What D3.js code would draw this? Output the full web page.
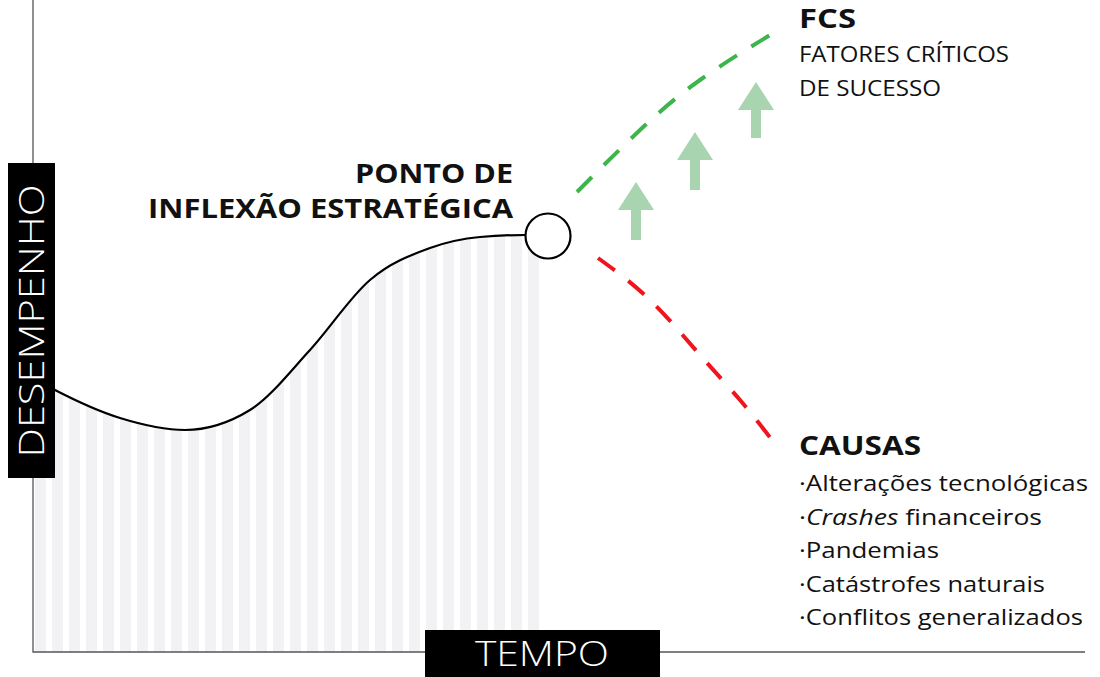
<!DOCTYPE html>
<html lang="pt">
<head>
<meta charset="UTF-8">
<script src="https://d3js.org/d3.v7.min.js"></script>
<style>
  body { margin: 0; background: #fff; font-family: "Open Sans", Lato, sans-serif; }
</style>
</head>
<body>
<svg width="1100" height="677"></svg>
<script>
// performance curve (time, performance) up to the inflection point
const curveT = [0, 22, 87, 152, 217, 277, 337, 397, 447, 492];
const curveP = [274, 262, 234, 222, 242, 302, 372, 404, 415, 417];
const inflection = [515, 416];
// scenarios after the inflection point
const upT = [544, 607, 667, 742];
const upP = [460, 522, 572, 620];
const downT = [565, 617, 667, 707, 739];
const downP = [394, 352, 297, 252, 212];
// arrows: time, base, tip
const arrowT = [603, 662, 723];
const arrowBase = [412, 462, 514];
const arrowTip = [470, 520, 570];
const causas = ["Alterações tecnológicas", "Crashes financeiros", "Pandemias", "Catástrofes naturais", "Conflitos generalizados"];
const causasLen = [289, 243, 140, 246, 284];

const svg = d3.select("svg");
const x = d3.scaleLinear().domain([0, 1052]).range([33, 1085]);
const y = d3.scaleLinear().domain([0, 652]).range([652, 0]);

const pts = curveT.map((t, i) => [t, curveP[i]]).concat([inflection]);
const line = d3.line().x(d => x(d[0])).y(d => y(d[1])).curve(d3.curveMonotoneX);
const area = d3.area().x(d => x(d[0])).y0(y(0)).y1(d => y(d[1])).curve(d3.curveMonotoneX);

// stripes under the curve
svg.append("clipPath").attr("id", "under").append("path").attr("d", area(pts.concat([[inflection[0] + 28, inflection[1]]])));
const stripeT = d3.range(2, 512, 17);
svg.append("g").attr("clip-path", "url(#under)")
  .selectAll("rect").data(stripeT).join("rect")
  .attr("x", d => x(d)).attr("width", 11)
  .attr("y", 0).attr("height", y(0))
  .attr("fill", "#f2f2f4");

// axes
svg.append("path").attr("d", `M${x(0)},0V${y(0)}H${x(1052)}`)
  .attr("fill", "none").attr("stroke", "#555").attr("stroke-width", 1.3);

svg.append("path").attr("d", line(pts)).attr("fill", "none").attr("stroke", "#000").attr("stroke-width", 2.2);

const dash = d3.line().x(d => x(d[0])).y(d => y(d[1])).curve(d3.curveNatural);
svg.append("path").attr("d", dash(upT.map((t, i) => [t, upP[i]])))
  .attr("fill", "none").attr("stroke", "#3db54a").attr("stroke-width", 4).attr("stroke-dasharray", "21,17");
svg.append("path").attr("d", dash(downT.map((t, i) => [t, downP[i]])))
  .attr("fill", "none").attr("stroke", "#f0141e").attr("stroke-width", 4).attr("stroke-dasharray", "21,17");

svg.append("circle").attr("cx", x(inflection[0])).attr("cy", y(inflection[1])).attr("r", 22.5)
  .attr("fill", "#fff").attr("stroke", "#000").attr("stroke-width", 2.2);

// arrows
arrowT.forEach((t, i) => {
  const cx = x(t), yb = y(arrowBase[i]), yt = y(arrowTip[i]), hh = 28;
  svg.append("path")
    .attr("d", `M${cx},${yt}L${cx + 18},${yt + hh}H${cx + 5}V${yb}H${cx - 5}V${yt + hh}H${cx - 18}Z`)
    .attr("fill", "#a9d4b0");
});

// labels
const t = (s, px, py, len, o = {}) => svg.append("text").attr("x", px).attr("y", py)
  .attr("font-size", o.size || 21).attr("font-weight", o.w || 400)
  .attr("text-anchor", o.anchor || "start").attr("fill", o.fill || "#111")
  .attr("textLength", len).attr("lengthAdjust", "spacingAndGlyphs").text(s);

t("PONTO DE", 513, 183, 158, {size: 27, w: 700, anchor: "end"});
t("INFLEXÃO ESTRATÉGICA", 513, 218, 365, {size: 27, w: 700, anchor: "end"});
t("FCS", 799, 28, 57, {size: 27, w: 700});
t("FATORES CRÍTICOS", 799, 62, 210);
t("DE SUCESSO", 799, 96, 142);
t("CAUSAS", 799, 455, 122, {size: 27, w: 700});
causas.forEach((c, i) => {
  const el = svg.append("text").attr("x", 799).attr("y", 491 + i * 33.6).attr("font-size", 21).attr("fill", "#111")
    .attr("textLength", causasLen[i]).attr("lengthAdjust", "spacingAndGlyphs");
  el.append("tspan").text("·");
  if (c.startsWith("Crashes")) {
    el.append("tspan").attr("font-style", "italic").text("Crashes");
    el.append("tspan").text(" financeiros");
  } else el.append("tspan").text(c);
});

// boxed axis titles
svg.append("rect").attr("x", 8).attr("y", 163).attr("width", 47).attr("height", 315).attr("fill", "#000");
svg.append("text").attr("transform", "translate(44,321) rotate(-90)").attr("text-anchor", "middle")
  .attr("font-size", 34).attr("font-weight", 300).attr("fill", "#fff")
  .attr("textLength", 273).attr("lengthAdjust", "spacingAndGlyphs").text("DESEMPENHO");
svg.append("rect").attr("x", 425).attr("y", 630).attr("width", 235).attr("height", 47).attr("fill", "#000");
svg.append("text").attr("x", 542).attr("y", 666).attr("text-anchor", "middle")
  .attr("font-size", 34).attr("font-weight", 300).attr("fill", "#fff")
  .attr("textLength", 134).attr("lengthAdjust", "spacingAndGlyphs").text("TEMPO");
</script>
</body>
</html>
